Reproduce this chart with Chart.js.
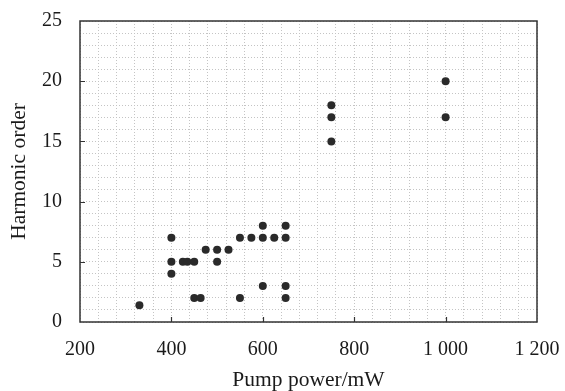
<!DOCTYPE html>
<html>
<head>
<meta charset="utf-8">
<script src="https://cdn.jsdelivr.net/npm/chart.js@4/dist/chart.umd.min.js"></script>
<style>
  html, body { margin: 0; padding: 0; background: #fff; }
  #wrap { width: 565px; height: 391px; }
</style>
</head>
<body>
<div id="wrap"><canvas id="chart"></canvas></div>
<script>
// pump power (mW) and the harmonic order seen at that power
const pumpPower = [330, 400, 400, 400, 425, 435, 450, 450, 464, 475, 500, 500, 525, 550, 550, 575, 600, 600, 600, 625, 650, 650, 650, 650, 750, 750, 750, 1000, 1000];
const harmonicOrder = [1.4, 7, 5, 4, 5, 5, 5, 2, 2, 6, 6, 5, 6, 7, 2, 7, 7, 8, 3, 7, 7, 8, 3, 2, 18, 17, 15, 20, 17];

const xMajor = [400, 600, 800, 1000];
const yMajor = [5, 10, 15, 20];

const serif = 'Liberation Serif';
const ink = '#1a1a1a';

function spaced(v) {
    return String(v).replace(/\B(?=(\d{3})+(?!\d))/g, ' ');
}

// box round the plot and short inward ticks at the labelled values
const frame = {
    id: 'frame',
    afterDraw(chart) {
        const { ctx, chartArea: a, scales } = chart;
        ctx.save();
        ctx.strokeStyle = '#333';
        ctx.lineWidth = 1.5;
        ctx.strokeRect(a.left, a.top, a.right - a.left, a.bottom - a.top);
        ctx.lineWidth = 1.2;
        ctx.beginPath();
        xMajor.forEach(v => {
            const px = Math.round(scales.x.getPixelForValue(v)) + 0.5;
            ctx.moveTo(px, a.bottom);
            ctx.lineTo(px, a.bottom - 5);
        });
        yMajor.forEach(v => {
            const py = Math.round(scales.y.getPixelForValue(v)) + 0.5;
            ctx.moveTo(a.left, py);
            ctx.lineTo(a.left + 5, py);
        });
        ctx.stroke();
        ctx.restore();
    }
};

new Chart(document.getElementById('chart'), {
    type: 'scatter',
    data: {
        datasets: [{
            data: pumpPower.map((p, i) => ({ x: p, y: harmonicOrder[i] })),
            backgroundColor: '#2a2a2a',
            borderColor: '#2a2a2a',
            borderWidth: 0,
            pointRadius: 4,
        }],
    },
    options: {
        responsive: true,
        maintainAspectRatio: false,
        animation: false,
        layout: { padding: { top: 21, right: 28, left: 0, bottom: 0 } },
        plugins: { legend: { display: false }, tooltip: { enabled: false } },
        scales: {
            x: {
                type: 'linear',
                min: 200,
                max: 1200,
                afterFit: s => { s.height = 69; s.paddingLeft = 0; s.paddingRight = 0; },
                ticks: {
                    stepSize: 40,
                    autoSkip: false,
                    maxRotation: 0,
                    padding: 16,
                    color: ink,
                    font: { family: serif, size: 20 },
                    callback: v => (v % 200 === 0 ? spaced(v) : ''),
                },
                grid: { color: '#c4c4c4', lineWidth: 1, drawTicks: false },
                border: { display: false, dash: [1, 2] },
                title: {
                    display: true,
                    text: 'Pump power/mW',
                    color: ink,
                    font: { family: serif, size: 21.5 },
                    padding: { top: 0, bottom: -2 },
                },
            },
            y: {
                min: 0,
                max: 25,
                afterFit: s => { s.width = 80; s.paddingTop = 0; s.paddingBottom = 0; },
                ticks: {
                    stepSize: 1,
                    autoSkip: false,
                    padding: 18,
                    color: ink,
                    font: { family: serif, size: 20 },
                    callback: v => (v % 5 === 0 ? v : ''),
                },
                grid: { color: '#c4c4c4', lineWidth: 1, drawTicks: false },
                border: { display: false, dash: [1, 2] },
                title: {
                    display: true,
                    text: 'Harmonic order',
                    color: ink,
                    font: { family: serif, size: 21.5 },
                    padding: { top: 6, bottom: 0 },
                },
            },
        },
    },
    plugins: [frame],
});
</script>
</body>
</html>
